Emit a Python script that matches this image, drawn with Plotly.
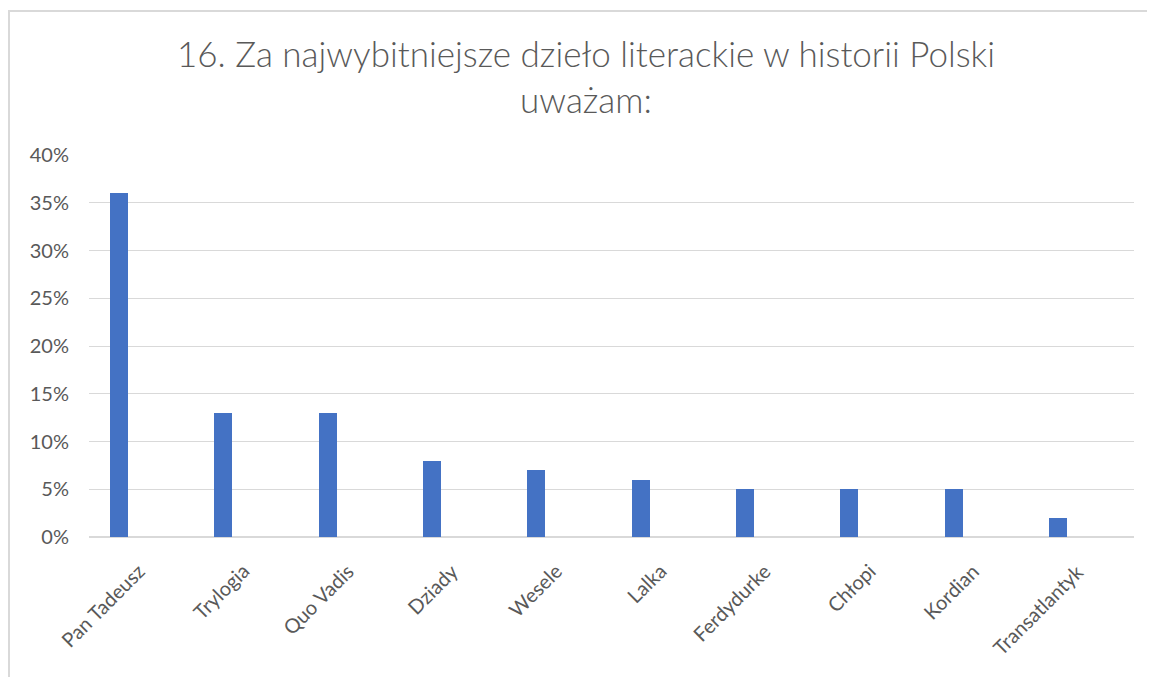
import plotly.graph_objects as go

categories = ["Pan Tadeusz", "Trylogia", "Quo Vadis", "Dziady", "Wesele", "Lalka",
              "Ferdydurke", "Chłopi", "Kordian", "Transatlantyk"]
values = [0.36, 0.13, 0.13, 0.08, 0.07, 0.06, 0.05, 0.05, 0.05, 0.02]
y_ticks = [0, 0.05, 0.10, 0.15, 0.20, 0.25, 0.30, 0.35, 0.40]
y_tick_labels = ["0%", "5%", "10%", "15%", "20%", "25%", "30%", "35%", "40%"]
title_text = "16. Za najwybitniejsze dzieło literackie w historii Polski<br>uważam:"

# page body has an 8px margin, so figure is 8px smaller each way
W, H = 1147, 669
L, R, T, B = 81, 1126, 147, 529
FONT = "Lato, 'Open Sans', sans-serif"
GREY = "#595959"

fig = go.Figure(go.Bar(
    x=categories, y=values, marker=dict(color="#4472C4", line=dict(width=0)),
    width=0.1725,
))

def px(x):
    return (x - L) / (R - L)

def py(y):
    return (B - y) / (B - T)

annotations = [
    dict(x=c, y=0, xref="x", yref="y", text=c, showarrow=False, textangle=-45,
         xanchor="right", yanchor="top", xshift=33, yshift=-19,
         font=dict(family=FONT, size=20, color=GREY))
    for c in categories
]

fig.update_layout(
    width=W, height=H,
    margin=dict(l=L, r=W - R, t=T, b=H - B, autoexpand=False),
    paper_bgcolor="white", plot_bgcolor="white",
    font=dict(family=FONT, color=GREY, size=20),
    title=dict(text=title_text, x=578 / W, xanchor="center",
               y=1 - 59 / H, yanchor="middle", yref="container", xref="container",
               font=dict(size=35, color=GREY, family=FONT, weight=300)),
    showlegend=False,
    bargap=0,
    xaxis=dict(range=[-0.2875, 9.728], showgrid=False, showline=False, ticks="",
               showticklabels=False),
    yaxis=dict(range=[0, 0.40], tickvals=y_ticks, ticktext=y_tick_labels,
               showgrid=True, gridcolor="#D9D9D9", gridwidth=1, zeroline=True,
               zerolinecolor="#D9D9D9", zerolinewidth=1.5, showline=False, ticks="",
               ticklabelstandoff=19, tickfont=dict(size=20, color=GREY, family=FONT)),
    annotations=annotations,
    shapes=[
        dict(type="line", xref="paper", yref="paper", x0=px(0), x1=px(W), y0=py(3), y1=py(3),
             line=dict(color="#D9D9D9", width=2)),
        dict(type="line", xref="paper", yref="paper", x0=px(1), x1=px(1), y0=py(3), y1=py(H),
             line=dict(color="#D9D9D9", width=2)),
    ],
)

fig.write_html("out.html")
